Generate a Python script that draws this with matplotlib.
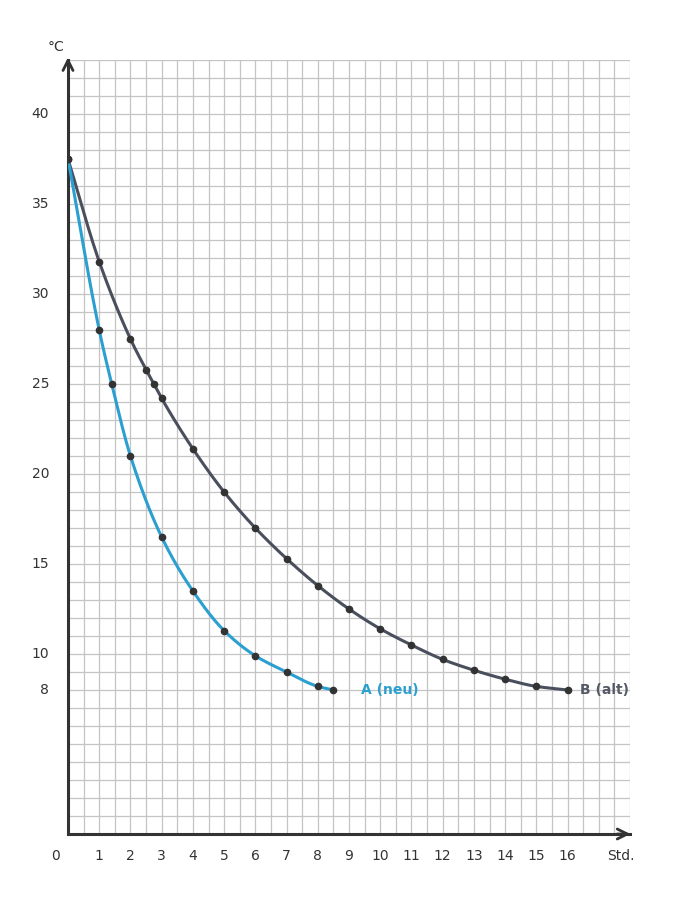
import matplotlib
matplotlib.use("Agg")
import matplotlib.pyplot as plt
import numpy as np

a_x = [0, 1, 1.4, 2, 3, 4, 5, 6, 7, 8, 8.5]
a_y = [37.5, 28, 25, 21, 16.5, 13.5, 11.3, 9.9, 9.0, 8.2, 8.0]
b_x = [0, 1, 2, 2.5, 2.75, 3, 4, 5, 6, 7, 8, 9, 10, 11, 12, 13, 14, 15, 16]
b_y = [37.5, 31.8, 27.5, 25.8, 25.0, 24.2, 21.4, 19.0, 17.0, 15.3, 13.8, 12.5, 11.4,
       10.5, 9.7, 9.1, 8.6, 8.2, 8.0]
x_ticks = list(range(1, 17))
y_ticks = [8, 10, 15, 20, 25, 30, 35, 40]


def smooth(xs, ys, n=20):
    # monotone (Fritsch-Carlson) cubic Hermite curve through the data points
    x = np.asarray(xs, float); y = np.asarray(ys, float)
    h = np.diff(x); d = np.diff(y) / h
    m = np.zeros_like(y)
    m[0], m[-1] = d[0], d[-1]
    for i in range(1, len(x) - 1):
        if d[i-1] * d[i] > 0:
            w1 = 2*h[i] + h[i-1]; w2 = h[i] + 2*h[i-1]
            m[i] = (w1 + w2) / (w1/d[i-1] + w2/d[i])
    px, py = [], []
    for i in range(len(x) - 1):
        t = np.linspace(0, 1, n, endpoint=False)
        h00 = 2*t**3 - 3*t**2 + 1; h10 = t**3 - 2*t**2 + t
        h01 = -2*t**3 + 3*t**2; h11 = t**3 - t**2
        px.extend(x[i] + t*h[i])
        py.extend(h00*y[i] + h10*h[i]*m[i] + h01*y[i+1] + h11*h[i]*m[i+1])
    px.append(x[-1]); py.append(y[-1])
    return px, py


W, H = 682, 900
fig = plt.figure(figsize=(W/100, H/100), dpi=100)
L, R, B, T = 68, 630, 834, 60
ax = fig.add_axes([L/W, 1-B/H, (R-L)/W, (B-T)/H])
ax.set_xlim(0, 18)
ax.set_ylim(0, 43)
for x in np.arange(0.5, 18.01, 0.5):
    ax.axvline(x, color='#c4c4c4', lw=0.9, zorder=0)
for y in np.arange(1, 43.01, 1):
    ax.axhline(y, color='#c4c4c4', lw=0.9, zorder=0)
for s in ['top', 'right']:
    ax.spines[s].set_visible(False)
for s in ['left', 'bottom']:
    ax.spines[s].set_linewidth(2.2)
    ax.spines[s].set_color('#333333')
ax.set_xticks([]); ax.set_yticks([])
ax.annotate('', xy=(18.1, 0), xytext=(17.5, 0), annotation_clip=False,
            arrowprops=dict(arrowstyle='->', color='#333333', lw=2, mutation_scale=18))
ax.annotate('', xy=(0, 43.3), xytext=(0, 42.5), annotation_clip=False,
            arrowprops=dict(arrowstyle='->', color='#333333', lw=2, mutation_scale=18))

bx, by = smooth(b_x, b_y)
axx, ayy = smooth(a_x, a_y)
ax.plot(bx, by, color='#4a4f5e', lw=2.2, zorder=3)
ax.plot(axx, ayy, color='#2a9fd0', lw=2.2, zorder=3)
ax.plot(b_x, b_y, 'o', color='#333333', ms=4.5, zorder=4)
ax.plot(a_x, a_y, 'o', color='#333333', ms=4.5, zorder=4)
ax.text(9.4, 8, 'A (neu)', color='#2a9fd0', fontsize=10, va='center', fontweight='bold')
ax.text(16.4, 8, 'B (alt)', color='#555a66', fontsize=10, va='center', fontweight='bold')

for t in x_ticks:
    ax.text(t, -1.2, str(t), ha='center', va='center', fontsize=10, color='#333333', clip_on=False)
ax.text(-0.4, -1.2, '0', ha='center', va='center', fontsize=10, color='#333333')
ax.text(17.7, -1.2, 'Std.', ha='center', va='center', fontsize=10, color='#333333')
for t in y_ticks:
    ax.text(-0.6, t, str(t), ha='right', va='center', fontsize=10, color='#333333')
ax.text(-0.4, 43.7, '°C', ha='center', va='center', fontsize=10, color='#333333')
fig.savefig('out.png', dpi=100)
